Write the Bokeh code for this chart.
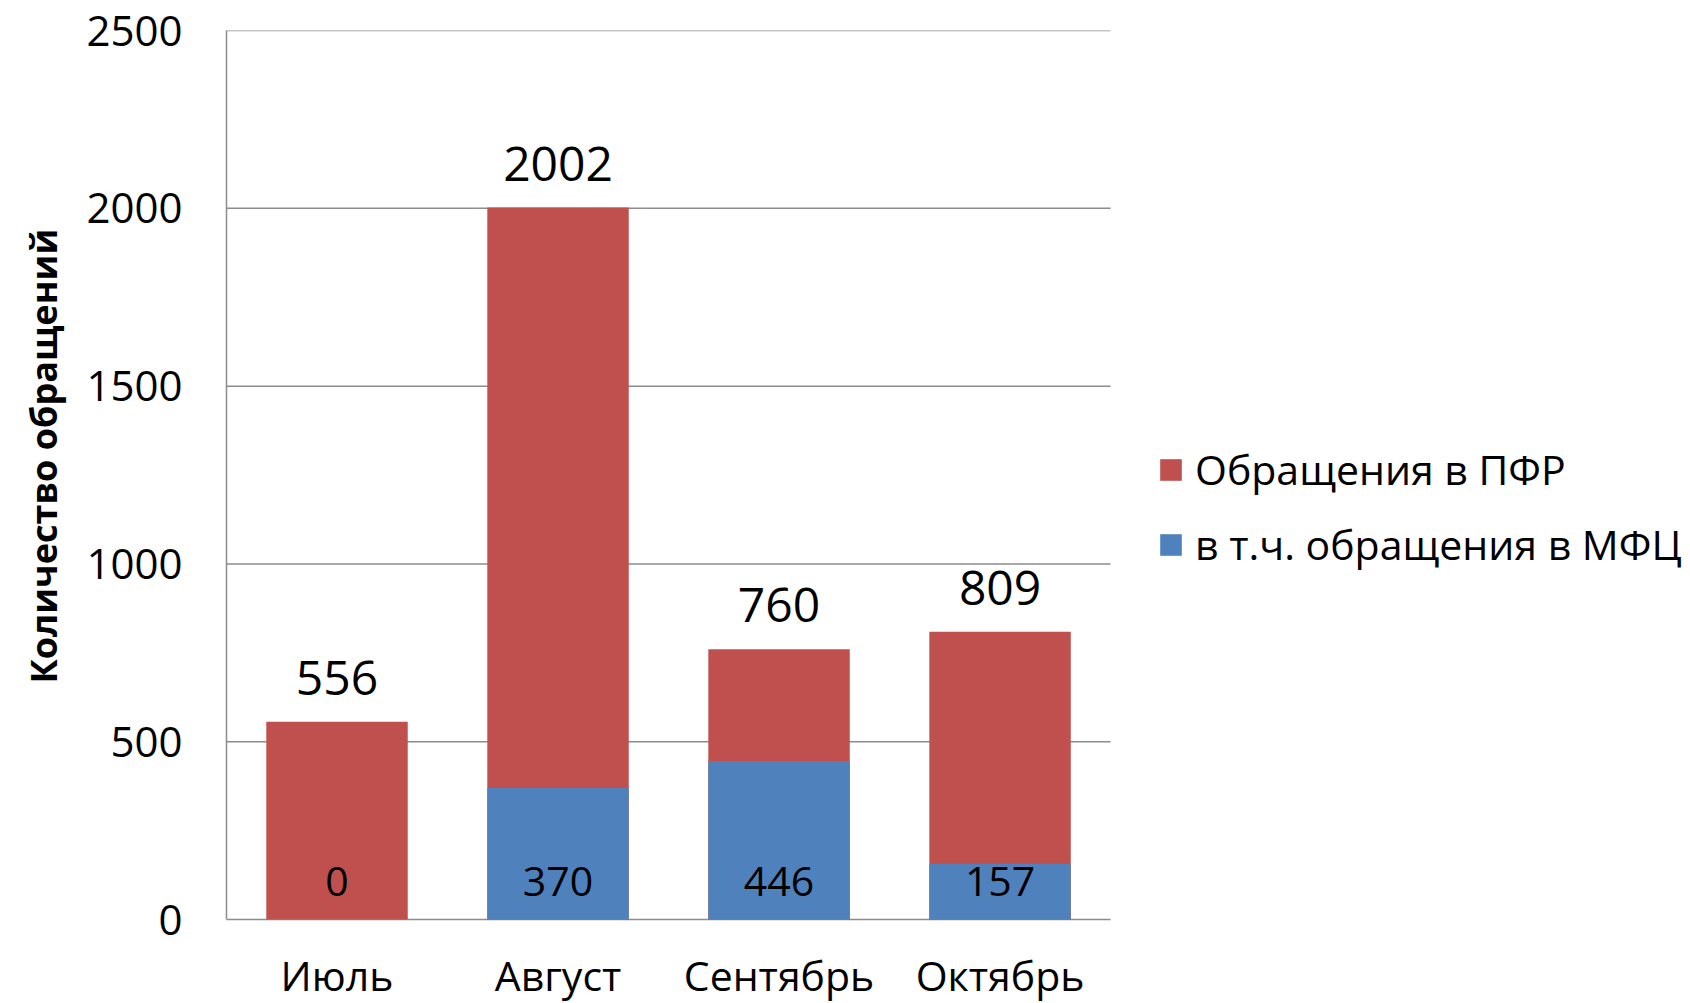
from bokeh.plotting import figure
from bokeh.models import (ColumnDataSource, LabelSet, Legend, LegendItem, Range1d,
                          Title)
from bokeh.core.properties import value
from bokeh.embed import file_html
from bokeh.resources import INLINE

months = ["Июль", "Август", "Сентябрь", "Октябрь"]
pfr_total = [556, 2002, 760, 809]
mfc = [0, 370, 446, 157]
series_names = ["Обращения в ПФР", "в т.ч. обращения в МФЦ"]
y_ticks = [0, 500, 1000, 1500, 2000, 2500]
y_title = "Количество обращений"

RED = "#C0504D"
BLUE = "#4F81BD"
GRID = "#8C8C8C"
FONT = "Open Sans"

xs = list(range(len(months)))
src = ColumnDataSource(dict(
    x=xs,
    month=months,
    total=pfr_total,
    mfc=mfc,
    total_lbl=[str(v) for v in pfr_total],
    mfc_lbl=[str(v) for v in mfc],
    zero=[0] * len(months),
))

# frame spans from the y axis to the right edge and down to the bottom,
# so that category labels and the legend live inside it
p = figure(
    x_range=Range1d(-0.5, 6.124),
    y_range=Range1d(-236, y_ticks[-1]),
    x_axis_location=None,
    width=1690, height=1003,
    output_backend="svg", toolbar_location=None,
    min_border_left=226, min_border_right=0,
    min_border_top=30, min_border_bottom=0,
)
p.outline_line_color = None
p.background_fill_color = "white"
p.border_fill_color = "white"
p.xgrid.grid_line_color = None
p.ygrid.grid_line_color = None

# gridlines and baseline (across category span only)
n = len(months)
p.segment(x0=[-0.5] * len(y_ticks), x1=[n - 0.5] * len(y_ticks),
          y0=y_ticks, y1=y_ticks, line_color=GRID, line_width=1.5)

r_red = p.vbar(x="x", top="total", bottom=0, width=0.64, source=src,
               fill_color=RED, line_color=None)
r_blue = p.vbar(x="x", top="mfc", bottom=0, width=0.64, source=src,
                fill_color=BLUE, line_color=None)

# data labels
p.add_layout(LabelSet(x="x", y="total", text="total_lbl", source=src,
                      y_offset=44, text_align="center", text_baseline="middle",
                      text_font=value(FONT), text_font_size="48px", text_color="black"))
p.add_layout(LabelSet(x="x", y="zero", text="mfc_lbl", source=src,
                      y_offset=38, text_align="center", text_baseline="middle",
                      text_font=value(FONT), text_font_size="41px", text_color="black"))
# category labels
p.add_layout(LabelSet(x="x", y="zero", text="month", source=src,
                      y_offset=-55, text_align="center", text_baseline="middle",
                      text_font=value(FONT), text_font_size="41px", text_color="black"))

# y axis
p.yaxis.ticker = y_ticks
p.yaxis.bounds = (y_ticks[0], y_ticks[-1])
p.yaxis.major_label_text_font = FONT
p.yaxis.major_label_text_font_size = "42px"
p.yaxis.major_label_text_color = "black"
p.yaxis.major_label_standoff = 38
p.yaxis.major_tick_line_color = None
p.yaxis.minor_tick_line_color = None
p.yaxis.axis_line_color = GRID
p.yaxis.axis_line_width = 1.5

ytitle = Title(text=y_title, align="left", offset=320, standoff=32,
               text_font=FONT, text_font_style="bold", text_font_size="36px",
               text_color="black")
p.add_layout(ytitle, "left")

legend = Legend(items=[LegendItem(label=series_names[0], renderers=[r_red]),
                       LegendItem(label=series_names[1], renderers=[r_blue])],
                location=(931, 431))
legend.border_line_color = None
legend.background_fill_alpha = 0
legend.padding = 0
legend.margin = 0
legend.spacing = 19
legend.glyph_width = 27
legend.glyph_height = 27
legend.label_height = 40
legend.label_standoff = 11
legend.label_text_font = FONT
legend.label_text_font_size = "41px"
legend.label_text_color = "black"
legend.label_text_baseline = "middle"
p.add_layout(legend, "center")

open("out.html", "w").write(file_html(p, INLINE))
